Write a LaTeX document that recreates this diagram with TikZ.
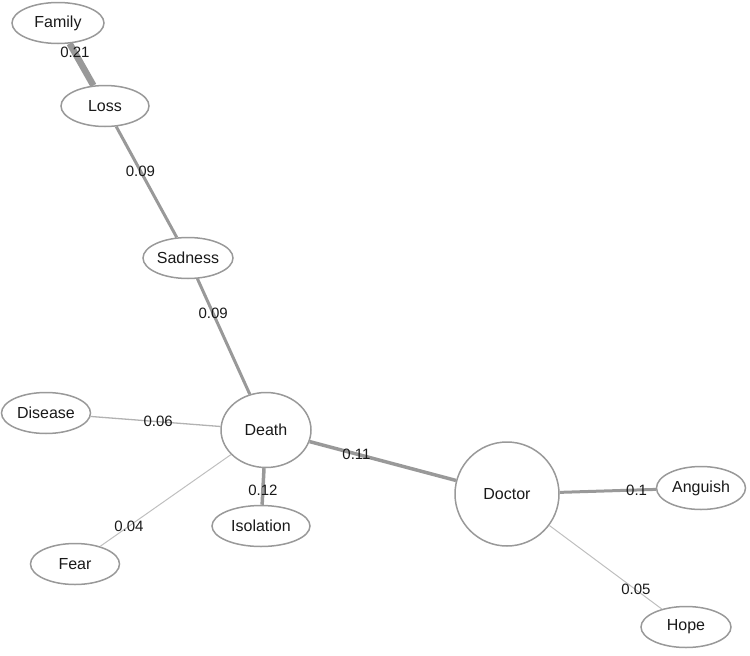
\documentclass[tikz,border=0pt]{standalone}
\usepackage{fontspec}
\setmainfont{Liberation Sans}
\usepackage{tikz}
\usetikzlibrary{shapes.geometric}

\begin{document}
\begin{tikzpicture}[x=1pt,y=-1pt,
        concept/.style={ellipse,draw=black!40,line width=1.5pt,inner sep=0pt,
            minimum width=#1,minimum height=41pt,text=black!90,
            font=\fontsize{16}{18}\selectfont},
        concept/.default=90pt,
        hub/.style={concept,minimum width=#1,minimum height=#1},
        link/.style={draw=black!40,line width=#1},
        weight/.style={text=black!90,inner sep=0pt,font=\fontsize{15}{17}\selectfont}]
        \useasboundingbox (0,0) rectangle (750,656);
        \node[concept=92pt] (family) at (58,23) {Family};
        \node[concept=88pt] (loss) at (105,106) {Loss};
        \node[concept] (sadness) at (188,258) {Sadness};
        \node[concept=90pt,minimum height=75pt] (death) at (266,430) {Death};
        \node[concept=89pt] (disease) at (46,413) {Disease};
        \node[concept=98pt] (isolation) at (261,526) {Isolation};
        \node[concept=89pt] (fear) at (75,564) {Fear};
        \node[hub=104pt] (doctor) at (507,494) {Doctor};
        \node[concept=89pt,minimum height=43pt] (anguish) at (701,488) {Anguish};
        \node[concept] (hope) at (686,627) {Hope};
        \draw[link=6.5pt] (family) -- node[weight,pos=0.22] {0.21} (loss);
        \draw[link=3pt] (loss) -- node[weight,pos=0.4] {0.09} (sadness);
        \draw[link=3pt] (sadness) -- node[weight,pos=0.3] {0.09} (death);
        \draw[link=1.3pt,draw=black!30] (disease) -- node[weight,pos=0.52] {0.06} (death);
        \draw[link=1pt,draw=black!25] (death) -- node[weight,pos=0.78] {0.04} (fear);
        \draw[link=3.5pt] (death) -- node[weight,pos=0.6] {0.12} (isolation);
        \draw[link=3.5pt] (death) -- node[weight,pos=0.32] {0.11} (doctor);
        \draw[link=3pt] (doctor) -- node[weight,pos=0.8] {0.1} (anguish);
        \draw[link=1pt,draw=black!25] (doctor) -- node[weight,pos=0.77] {0.05} (hope);
    \end{tikzpicture}
\end{document}
